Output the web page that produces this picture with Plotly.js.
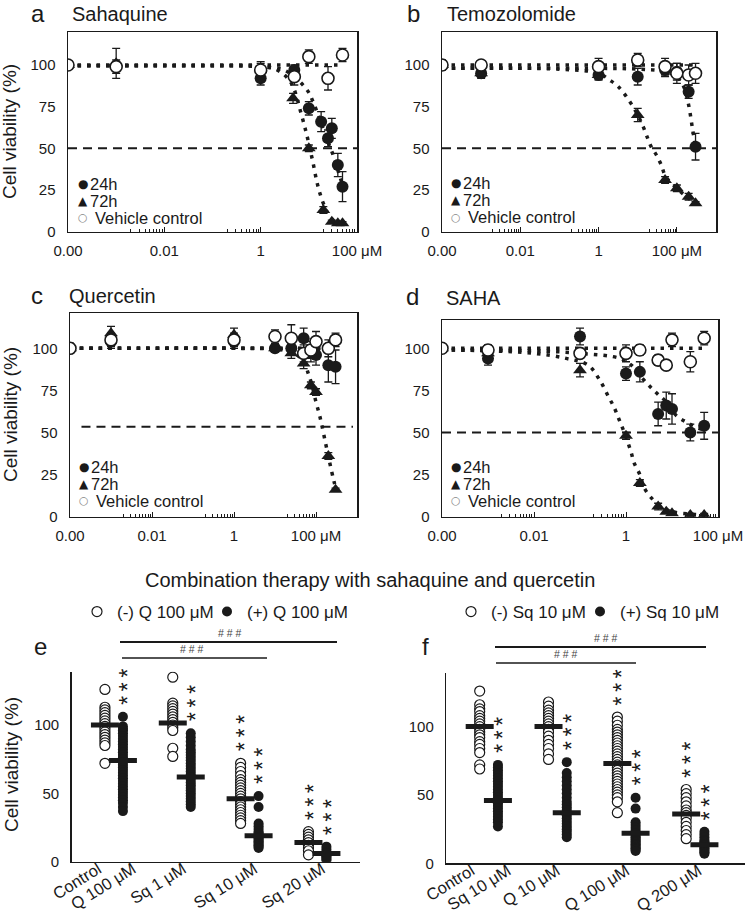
<!DOCTYPE html>
<html><head><meta charset="utf-8">
<script src="https://cdn.plot.ly/plotly-3.0.1.min.js"></script>
<style>html,body{margin:0;padding:0;background:#fff;}#chart{width:746px;height:918px;}</style>
</head><body><div id="chart"></div>
<script>
// ---------- Panel a: Sahaquine ----------
const a_conc24 = [0.0001, 0.001, 1, 5, 10, 18, 25, 30, 40, 50];
const a_v24    = [100, 99, 92, 97, 74, 66, 56, 62, 40, 27];
const a_e24    = [2, 3, 4, 3, 4, 6, 5, 6, 7, 9];
const a_conc72 = [0.0001, 0.001, 1, 4.7, 10, 20, 30, 40, 50];
const a_v72    = [100, 101, 98, 80, 50, 13, 6, 5, 5];
const a_e72    = [2, 9, 3, 3, 2, 2, 1, 1, 1];
const a_concV  = [0.0001, 0.001, 1, 5, 10, 25, 50];
const a_vV     = [100, 99, 97, 93, 105, 92, 106];
const a_eV     = [2, 4, 5, 5, 4, 7, 4];
const a_fitVx  = [0.0001, 50];
const a_fitVy  = [100, 100];
const a_fit24x = [0.0001, 0.01, 1, 3, 5, 7, 9.7, 11.8, 16.6, 24, 31, 42, 54];
const a_fit24y = [99.5, 99.5, 99, 97, 93, 89, 84, 79, 68, 55, 47, 35, 25];
const a_fit72x = [0.0001, 0.01, 1, 2, 3.4, 4.7, 6.9, 8.9, 10.5, 12.3, 14.4, 16.6, 20, 25, 32, 42, 54];
const a_fit72y = [99.5, 99.5, 99, 97.5, 93, 87, 71, 59, 50, 41, 31, 24, 17, 11, 7, 5, 4];

// ---------- Panel b: Temozolomide ----------
const b_conc  = [0.0001, 0.001, 1, 10, 50, 100, 200, 300];
const b_v24   = [100, 95, 94, 93, 97, 96, 84, 51];
const b_e24   = [2, 3, 3, 5, 4, 5, 4, 8];
const b_v72   = [100, 95, 94, 70, 31, 26, 21, 17];
const b_e72   = [2, 2, 2, 4, 2, 2, 2, 1];
const b_vV    = [100, 100, 99, 103, 99, 95, 94, 95];
const b_eV    = [3, 2, 5, 4, 5, 6, 6, 6];
const b_fitVx  = [0.0001, 300];
const b_fitVy  = [100, 100];
const b_fit24x = [0.0001, 1, 10, 50, 100, 150, 200, 250, 300];
const b_fit24y = [98, 98, 97.5, 96, 93, 87, 76, 62, 51];
const b_fit72x = [0.0001, 0.1, 1, 1.9, 3.2, 6.3, 10, 13.8, 18, 22, 30, 40, 52, 100, 200, 300];
const b_fit72y = [98, 97.5, 95, 91, 87, 78, 70, 63, 56, 51, 46, 40, 33, 26, 20, 17];

// ---------- Panel c: Quercetin ----------
const c_conc  = [0.0001, 0.001, 1, 10, 25, 50, 75, 100, 200, 300];
const c_v24   = [100, 104, 104, 100, 100, 106, 97, 96, 90, 89];
const c_e24   = [2, 4, 4, 2, 3, 6, 5, 6, 10, 10];
const c_v72   = [100, 109, 108, 100, 97, 91, 78, 74, 36, 16];
const c_e72   = [2, 4, 4, 2, 3, 3, 2, 2, 2, 1];
const c_vV    = [100, 105, 105, 107, 106, 97, 99, 104, 100, 105];
const c_eV    = [3, 4, 4, 4, 8, 5, 5, 6, 5, 4];
const c_fitVx  = [0.0001, 300];
const c_fitVy  = [100, 100];
const c_fit24x = [0.0001, 10, 100, 300];
const c_fit24y = [100, 100, 99.5, 98];
const c_fit72x = [0.0001, 1, 10, 25, 50, 65, 80, 100, 120, 137, 170, 200, 240, 275, 300];
const c_fit72y = [100, 100, 99.5, 98, 92, 85, 78, 68, 61, 55, 44, 36, 27, 21, 17];

// ---------- Panel d: SAHA ----------
const d_conc  = [0.0001, 0.001, 0.1, 1, 2, 5, 7.5, 10, 25, 50];
const d_v24   = [100, 94, 107, 85, 86, 61, 66, 64, 50, 54];
const d_e24   = [2, 4, 5, 4, 6, 7, 8, 9, 5, 8];
const d_v72   = [100, 97, 87, 48, 20, 6, 3, 2, 1, 1];
const d_e72   = [2, 2, 4, 2, 2, 2, 1, 1, 1, 1];
const d_vV    = [100, 99, 97, 97, 99, 93, 90, 105, 92, 106];
const d_eV    = [2, 3, 3, 5, 3, 3, 2, 4, 6, 4];
const d_fitVx  = [0.0001, 50];
const d_fitVy  = [100, 100];
const d_fit24x = [0.0001, 0.01, 0.1, 0.74, 1.3, 2.3, 3.4, 4.8, 7, 12.5, 21, 38, 50];
const d_fit24y = [99, 98.5, 97, 94, 90, 82, 77, 73, 69, 60, 56, 52.5, 52];
const d_fit72x = [0.0001, 0.001, 0.01, 0.05, 0.15, 0.27, 0.42, 0.55, 0.7, 0.86, 1.07, 1.3, 1.5, 2, 2.5, 3.9, 5.8, 10, 25, 50];
const d_fit72y = [99, 98.5, 97, 94, 90, 81, 71, 65, 58, 52, 45, 38, 32, 25, 17, 10, 6, 3, 1.5, 1];

const halfLines = [50, 50, 53.4, 50];
const curveTitles = ['Sahaquine', 'Temozolomide', 'Quercetin', 'SAHA'];
const panelLetters = ['a', 'b', 'c', 'd', 'e', 'f'];
const legendSymbols = ['●', '▲', '○'];
const legendLabels = ['24h', '72h', 'Vehicle control'];
const xTickVals = [0.0001, 0.01, 1, 100];
const xTickText = ['0.00', '0.01', '1', '100 μM'];
const yTickVals = [0, 25, 50, 75, 100];

// ---------- Panel e: sahaquine +/- quercetin ----------
const e_names = ['(-) Q 100 μM', '(+) Q 100 μM'];
const e_ticks = ['Control', 'Q 100 μM', 'Sq 1 μM', 'Sq 10 μM', 'Sq 20 μM'];
const e_ctrl_open   = [126, 113, 111, 109, 107, 105, 103, 101, 99, 97, 95, 93, 91, 89, 87, 85, 72];
const e_q100_filled = [106, 99, 97, 96, 94, 92, 90, 88, 86, 84, 82, 80, 78, 76, 75, 73, 71, 69, 67, 65, 63, 61, 59, 57, 55, 53, 51, 49, 47, 45, 43, 40, 37];
const e_sq1_open    = [135, 116, 114, 112, 110, 108, 106, 104, 102, 100, 98, 96, 83, 77];
const e_sq1_filled  = [94, 91, 88, 85, 82, 80, 78, 76, 74, 72, 70, 68, 66, 64, 62, 60, 58, 56, 54, 52, 50, 48, 46, 44, 42, 40];
const e_sq10_open   = [72, 69, 66, 63, 60, 58, 56, 54, 52, 50, 48, 46, 44, 42, 40, 38, 36, 34, 32, 30, 28];
const e_sq10_filled = [48, 40, 28, 26, 24, 22, 21, 20, 19, 18, 17, 16, 15, 14, 13, 12, 11, 10];
const e_sq20_open   = [22, 20, 18, 16, 14, 12, 10, 8, 5];
const e_sq20_filled = [11, 9, 7, 6, 5, 4, 3, 2, 1];
const e_means       = [100, 74, 101.5, 62, 46, 19, 14, 6];

// ---------- Panel f: quercetin +/- sahaquine ----------
const f_names = ['(-) Sq 10 μM', '(+) Sq 10 μM'];
const f_ticks = ['Control', 'Sq 10 μM', 'Q 10 μM', 'Q 100 μM', 'Q 200 μM'];
const f_ctrl_open    = [126, 116, 113, 111, 108, 106, 104, 102, 100, 98, 96, 94, 92, 89, 87, 84, 81, 72, 69];
const f_sq10_filled  = [72, 70, 68, 66, 64, 62, 60, 58, 56, 54, 52, 50, 48, 46, 44, 42, 40, 38, 36, 34, 32, 30, 27];
const f_q10_open     = [118, 115, 112, 110, 108, 106, 104, 102, 100, 98, 96, 93, 90, 87, 84, 80, 76];
const f_q10_filled   = [74, 66, 63, 60, 57, 54, 51, 48, 45, 43, 41, 39, 37, 35, 33, 31, 29, 27, 25, 23, 21, 19];
const f_q100_open    = [107, 104, 101, 98, 96, 94, 92, 90, 88, 86, 84, 82, 80, 78, 76, 74, 72, 70, 68, 66, 64, 62, 60, 58, 56, 54, 52, 50, 48, 45, 37];
const f_q100_filled  = [48, 40, 30, 28, 26, 24, 22, 20, 19, 18, 17, 16, 15, 14, 13, 12, 11, 10, 9];
const f_q200_open    = [54, 51, 48, 45, 42, 39, 37, 35, 33, 30, 27, 24, 21, 18];
const f_q200_filled  = [23, 21, 19, 17, 16, 15, 14, 13, 12, 11, 10, 9, 8, 7];
const f_means        = [100, 46, 100, 37, 73, 22, 36, 13.5];

const mainTitle = 'Combination therapy with sahaquine and quercetin';
const yTitle = 'Cell viability (%)';
const sigHash = '# # #';
const sigStars = '*\u2009*\u2009*';

// ================= build =================
const W = 746, H = 918;
const px = v => v / W, py = v => 1 - v / H;
const INK = '#1a1a1a';
const FONT = 'Liberation Sans, Arial, sans-serif';

const curvePanels = [
  {xa:'x',  ya:'y',  c24:a_conc24, v24:a_v24, e24:a_e24, c72:a_conc72, v72:a_v72, e72:a_e72, cV:a_concV, vV:a_vV, eV:a_eV,
   fV:[a_fitVx,a_fitVy], f24:[a_fit24x,a_fit24y], f72:[a_fit72x,a_fit72y]},
  {xa:'x2', ya:'y2', c24:b_conc, v24:b_v24, e24:b_e24, c72:b_conc, v72:b_v72, e72:b_e72, cV:b_conc, vV:b_vV, eV:b_eV,
   fV:[b_fitVx,b_fitVy], f24:[b_fit24x,b_fit24y], f72:[b_fit72x,b_fit72y]},
  {xa:'x3', ya:'y3', c24:c_conc, v24:c_v24, e24:c_e24, c72:c_conc, v72:c_v72, e72:c_e72, cV:c_conc, vV:c_vV, eV:c_eV,
   fV:[c_fitVx,c_fitVy], f24:[c_fit24x,c_fit24y], f72:[c_fit72x,c_fit72y]},
  {xa:'x4', ya:'y4', c24:d_conc, v24:d_v24, e24:d_e24, c72:d_conc, v72:d_v72, e72:d_e72, cV:d_conc, vV:d_vV, eV:d_eV,
   fV:[d_fitVx,d_fitVy], f24:[d_fit24x,d_fit24y], f72:[d_fit72x,d_fit72y]}
];

const traces = [];
const dotLine = {color: INK, width: 3.5, dash: '3.5px,6px', shape: 'spline'};
const errStyle = arr => ({type:'data', array: arr, visible: true, color: INK, thickness: 1.3, width: 4});

curvePanels.forEach(p => {
  [p.fV, p.f24, p.f72].forEach(f => traces.push({x: f[0], y: f[1], xaxis: p.xa, yaxis: p.ya, mode: 'lines',
    line: dotLine, hoverinfo: 'skip', showlegend: false}));
  traces.push({x: p.c24, y: p.v24, xaxis: p.xa, yaxis: p.ya, mode: 'markers', name: '24h', showlegend: false,
    marker: {symbol: 'circle', size: 12, color: INK}, error_y: errStyle(p.e24)});
  traces.push({x: p.c72, y: p.v72, xaxis: p.xa, yaxis: p.ya, mode: 'markers', name: '72h', showlegend: false,
    marker: {symbol: 'triangle-up', size: 12, color: INK}, error_y: errStyle(p.e72)});
  traces.push({x: p.cV, y: p.vV, xaxis: p.xa, yaxis: p.ya, mode: 'markers', name: 'Vehicle control', showlegend: false,
    marker: {symbol: 'circle', size: 12, color: '#fff', line: {color: INK, width: 1.6}}, error_y: errStyle(p.eV)});
});

// scatter columns e / f
const OFF = 0.265;
function columnTraces(xa, ya, openCols, filledCols, means, names, legIds) {
  const ox = [], oy = [], fxv = [], fyv = [];
  openCols.forEach((col, i) => col.forEach(v => { ox.push(i); oy.push(v); }));
  filledCols.forEach((col, i) => col.forEach(v => { fxv.push(i + OFF); fyv.push(v); }));
  const mx = [];
  means.forEach((m, k) => mx.push(Math.floor(k / 2) + (k % 2 ? OFF : 0)));
  traces.push({x: ox, y: oy, xaxis: xa, yaxis: ya, mode: 'markers', name: names[0], legend: legIds[0],
    marker: {symbol: 'circle', size: 10, color: '#fff', line: {color: INK, width: 1.2}}});
  traces.push({x: fxv, y: fyv, xaxis: xa, yaxis: ya, mode: 'markers', name: names[1], legend: legIds[1],
    marker: {symbol: 'circle', size: 10, color: INK}});
  traces.push({x: mx, y: means, xaxis: xa, yaxis: ya, mode: 'markers', showlegend: false, hoverinfo: 'y',
    marker: {symbol: 'line-ew', size: 20, line: {color: INK, width: 5}}});
}
const eOpen = [e_ctrl_open, e_sq1_open, e_sq10_open, e_sq20_open];
const eFilled = [e_q100_filled, e_sq1_filled, e_sq10_filled, e_sq20_filled];
const fOpen = [f_ctrl_open, f_q10_open, f_q100_open, f_q200_open];
const fFilled = [f_sq10_filled, f_q10_filled, f_q100_filled, f_q200_filled];
columnTraces('x5', 'y5', eOpen, eFilled, e_means, e_names, ['legend5', 'legend7']);
columnTraces('x6', 'y6', fOpen, fFilled, f_means, f_names, ['legend6', 'legend8']);

// ---------- layout ----------
const minorVals = [];
[0.001, 0.1, 10].forEach(b => { for (let k = 2; k <= 9; k++) minorVals.push(+(b * k).toPrecision(3)); });

function logX(dom, rng, anchor) {
  return {type: 'log', domain: dom, range: rng, anchor: anchor, showline: true, mirror: true, linecolor: INK, linewidth: 1.5,
    ticks: 'inside', ticklen: 5, tickwidth: 1, tickcolor: INK, tickmode: 'array', tickvals: xTickVals, ticktext: xTickText,
    tickfont: {size: 15, color: INK, family: FONT}, showgrid: false, zeroline: false, ticklabelstandoff: 5, automargin: false,
    minor: {tickmode: 'array', tickvals: minorVals, ticks: 'inside', ticklen: 3, tickwidth: 1, tickcolor: INK, showgrid: false}};
}
function linY(dom, rng, anchor) {
  return {domain: dom, range: rng, anchor: anchor, showline: true, mirror: true, linecolor: INK, linewidth: 1.5,
    ticks: '', tickmode: 'array', tickvals: yTickVals, tickfont: {size: 15, color: INK, family: FONT}, automargin: false,
    showgrid: false, zeroline: false, ticklabelstandoff: 8};
}
function catX(dom, rng, anchor, tv, tt) {
  return {domain: dom, range: rng, anchor: anchor, showline: true, mirror: false, linecolor: INK, linewidth: 1.5,
    ticks: '', tickmode: 'array', tickvals: tv, ticktext: tt, tickangle: -32, automargin: false,
    tickfont: {size: 16.5, color: INK, family: FONT}, showgrid: false, zeroline: false, ticklabelstandoff: -10};
}
function scY(dom, anchor) {
  return {domain: dom, range: [0, 139], anchor: anchor, showline: true, linecolor: INK, linewidth: 1.5, ticks: '',
    tickmode: 'array', tickvals: [0, 50, 100], tickfont: {size: 15, color: INK, family: FONT}, automargin: false,
    showgrid: false, zeroline: false, ticklabelstandoff: 8};
}
function oneLegend(xp) {
  return {orientation: 'h', x: px(xp), xanchor: 'left', y: py(612), yanchor: 'middle', bgcolor: 'rgba(0,0,0,0)',
    font: {size: 17, color: INK, family: FONT}, itemclick: false, itemdoubleclick: false};
}

const layout = {
  width: W, height: H, margin: {l: 0, r: 0, t: 0, b: 0, autoexpand: false}, paper_bgcolor: '#fff', plot_bgcolor: '#fff',
  font: {family: FONT, color: INK}, showlegend: true,
  xaxis:  logX([px(68), px(357)], [-4, 2], 'y'),
  yaxis:  linY([py(231.7), py(32.3)], [0, 119.6], 'x'),
  xaxis2: logX([px(442), px(716)], [-4, 3], 'y2'),
  yaxis2: linY([py(231.7), py(32.3)], [0, 119.6], 'x2'),
  xaxis3: logX([px(70), px(357)], [-4, 3], 'y3'),
  yaxis3: linY([py(516.7), py(313.3)], [0, 120.8], 'x3'),
  xaxis4: logX([px(442), px(718)], [-4, 2], 'y4'),
  yaxis4: linY([py(516.7), py(320)], [0, 116.8], 'x4'),
  xaxis5: catX([px(71.7), px(360)], [-0.49, 3.76], 'y5', [-0.1, 0.41, 1.15, 2.2, 3.2], e_ticks),
  yaxis5: scY([py(861.7), py(671.7)], 'x5'),
  xaxis6: catX([px(446.3), px(744.7)], [-0.485, 3.85], 'y6', [-0.12, 0.41, 1.12, 2.13, 3.18], f_ticks),
  yaxis6: scY([py(863.3), py(673.3)], 'x6'),
  legend5: oneLegend(77), legend7: oneLegend(207),
  legend6: oneLegend(451), legend8: oneLegend(580),
  shapes: [], annotations: []
};

// 50% dashed lines
const yRefs = ['y', 'y2', 'y3', 'y4'], xRefs = ['x', 'x2', 'x3', 'x4'];
const dashSpan = [[0, 1], [0, 1], [0.04, 0.986], [0, 1]];
halfLines.forEach((v, i) => layout.shapes.push({type: 'line', xref: xRefs[i] + ' domain', yref: yRefs[i],
  x0: dashSpan[i][0], x1: dashSpan[i][1], y0: v, y1: v, line: {color: INK, width: 2, dash: '9px,6px'}, layer: 'below'}));

const A = (o) => layout.annotations.push(Object.assign({xref: 'paper', yref: 'paper', showarrow: false,
  font: {family: FONT, color: INK, size: 15}}, o));

// panel letters + titles
const letterPos = [[38, 13], [413, 13], [37, 295], [412, 297], [40, 646], [425, 646]];
panelLetters.forEach((L, i) => A({x: px(letterPos[i][0]), y: py(letterPos[i][1]), text: L, xanchor: 'center', yanchor: 'middle',
  font: {family: FONT, color: INK, size: 24}}));
const titlePos = [[70, 14], [445, 14], [67, 296], [444, 298]];
curveTitles.forEach((t, i) => A({x: px(titlePos[i][0]), y: py(titlePos[i][1]), text: t, xanchor: 'left', yanchor: 'middle',
  font: {family: FONT, color: INK, size: 20}}));

// curve panel legends
const legPos = [[83, 184], [456, 183], [84, 467], [456, 467]];
legPos.forEach(([lx, ly]) => {
  legendSymbols.forEach((s, k) => {
    A({x: px(lx), y: py(ly + 17 * k), text: s, xanchor: 'center', yanchor: 'middle',
      font: {family: 'DejaVu Sans, sans-serif', size: k === 2 ? 11 : 12, color: k === 2 ? '#888' : INK}});
    A({x: px(lx + (k === 2 ? 10 : 5)), y: py(ly + 17 * k), text: legendLabels[k], xanchor: 'left', yanchor: 'middle',
      font: {family: FONT, color: INK, size: 16.5}});
  });
});

// y titles
[[10, 132], [10, 415], [11, 765]].forEach(([x, y]) => A({x: px(x), y: py(y), text: yTitle, textangle: -90,
  xanchor: 'center', yanchor: 'middle', font: {family: FONT, color: INK, size: 19}}));

// main title
A({x: px(370), y: py(580), text: mainTitle, xanchor: 'center', yanchor: 'middle', font: {family: FONT, color: INK, size: 20}});

// significance brackets
const brackets = [[120, 337, 642, 2, 230], [122, 267, 658, 1.5, 192], [495, 706, 647, 2, 606], [496, 636, 663, 1.5, 566]];
brackets.forEach(([x0, x1, y, w, tx]) => {
  layout.shapes.push({type: 'line', xref: 'paper', yref: 'paper', x0: px(x0), x1: px(x1), y0: py(y), y1: py(y),
    line: {color: INK, width: w}});
  A({x: px(tx), y: py(y - 1), text: sigHash, xanchor: 'center', yanchor: 'bottom', font: {family: FONT, color: '#444', size: 10.5}});
});

// stars (stacked vertically) above every significant column
function stars(xa, ya, openCols, filledCols) {
  const cols = [];
  openCols.forEach((c, i) => { if (i > 1) cols.push([i, c]); });
  filledCols.forEach((c, i) => cols.push([i + OFF, c]));
  cols.forEach(([x, c]) => {
    layout.annotations.push({xref: xa, yref: ya, x: x, y: Math.max(...c), showarrow: false,
      text: sigStars, textangle: -90, xanchor: 'center', yanchor: 'bottom', yshift: 10, xshift: 5,
      font: {family: FONT, color: INK, size: 23}});
  });
}
stars('x5', 'y5', eOpen, eFilled);
stars('x6', 'y6', fOpen, fFilled);

Plotly.newPlot('chart', traces, layout, {staticPlot: true, displayModeBar: false});
</script></body></html>
